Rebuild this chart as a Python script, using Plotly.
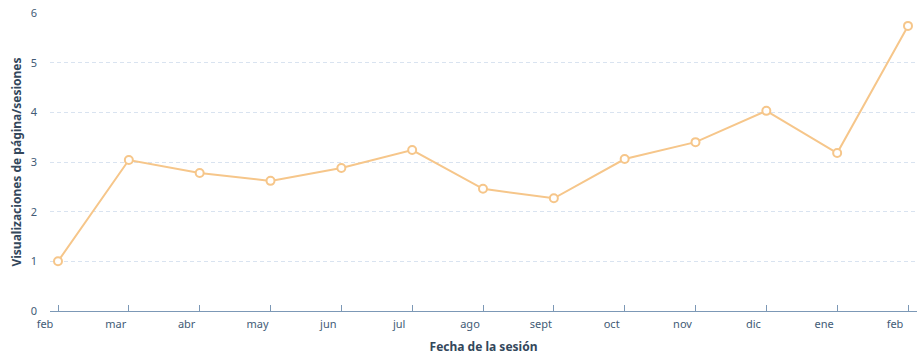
import plotly.graph_objects as go

months = ["feb", "mar", "abr", "may", "jun", "jul", "ago", "sept", "oct", "nov", "dic", "ene", "feb"]
values = [1.0, 3.04, 2.78, 2.62, 2.88, 3.24, 2.46, 2.27, 3.06, 3.40, 4.03, 3.18, 5.74]
y_ticks = [0, 1, 2, 3, 4, 5, 6]

x_idx = list(range(len(months)))

fig = go.Figure()
fig.add_trace(go.Scatter(
    x=x_idx, y=values, mode="lines+markers",
    line=dict(color="#f6c68a", width=2),
    marker=dict(size=8, color="white", line=dict(color="#f6c68a", width=2)),
    cliponaxis=False, hoverinfo="y",
))

font_fam = "'Noto Sans', 'Open Sans', sans-serif"
fig.update_layout(
    width=924, height=357,
    margin=dict(l=50, r=7, t=13, b=46),
    plot_bgcolor="white", paper_bgcolor="white",
    showlegend=False,
    font=dict(family=font_fam, size=11, color="#33475b"),
    xaxis=dict(
        automargin=False,
        range=[-0.113, 12.127],
        tickmode="array", tickvals=x_idx, ticktext=months,
        ticks="inside", ticklen=6, tickcolor="#7c98b6", tickwidth=1,
        showline=True, linecolor="#7c98b6", linewidth=1,
        showgrid=False, zeroline=False,
        ticklabelshift=-13, ticklabelstandoff=3,
        tickfont=dict(size=11, color="#425b76"),
        title=dict(text="<b>Fecha de la sesión</b>", font=dict(size=12, color="#33475b"), standoff=12),
    ),
    yaxis=dict(
        automargin=False,
        range=[0, 6],
        tickmode="array", tickvals=y_ticks,
        showgrid=True, gridcolor="#d9e3f0", griddash="4px,3px", gridwidth=1,
        zeroline=False, showline=False, ticks="",
        ticklabelstandoff=12,
        tickfont=dict(size=11, color="#425b76"),
        title=dict(text="<b>Visualizaciones de página/sesiones</b>", font=dict(size=12, color="#33475b"), standoff=6),
    ),
)

fig.write_html(
    "out.html",
    config={"displayModeBar": False},
    post_script="document.body.style.margin='0';document.body.style.overflow='hidden';",
)
